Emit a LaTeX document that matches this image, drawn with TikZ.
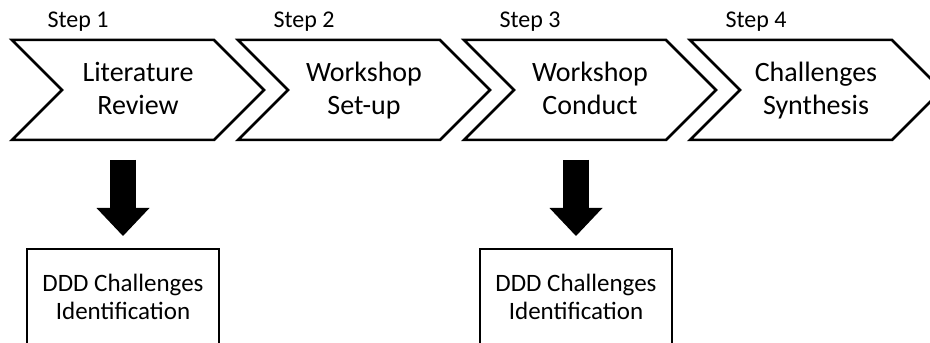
\documentclass[tikz,border=0pt]{standalone}
\usepackage{fontspec}
\setmainfont{Carlito}
\usetikzlibrary{shapes,arrows.meta,positioning,calc}
\newcommand{\linestrut}{\rule[-8pt]{0pt}{32pt}}

\begin{document}
\begin{tikzpicture}[x=1pt, y=1pt, node distance=226pt, on grid,
	stepbox/.style={signal, signal from=west, signal to=east, signal pointer angle=90, draw, line width=2.5pt,
		minimum width=252pt, minimum height=100pt, inner sep=0pt, outer sep=0pt, align=center,
		font=\fontsize{28}{30}\selectfont},
	steplabel/.style={font=\fontsize{24}{26}\selectfont},
	idbox/.style={rectangle, draw, line width=2.2pt, minimum width=192pt, minimum height=96pt, outer sep=0pt,
		align=center, font=\fontsize{25}{28}\selectfont},
	bigarrow/.style={line width=26pt, -{Triangle[width=53pt, length=28pt, line width=0pt]},
		shorten <=20pt, shorten >=13pt}]
	\useasboundingbox (0,0) rectangle (930,343);
	\clip (0,0) rectangle (930,343);
	\node[stepbox] (lit) at (138,253) {\linestrut Literature\\\linestrut Review};
	\node[stepbox, right=of lit] (setup) {\linestrut Workshop\\\linestrut Set-up};
	\node[stepbox, right=of setup] (conduct) {\linestrut Workshop\\\linestrut Conduct};
	\node[stepbox, right=of conduct] (synth) {\linestrut Challenges\\\linestrut Synthesis};
	
	\node[steplabel, above left=68pt and 60pt of lit] (s1) {Step 1};
	\node[steplabel, above left=68pt and 60pt of setup] (s2) {Step 2};
	\node[steplabel, above left=68pt and 60pt of conduct] (s3) {Step 3};
	\node[steplabel, above left=68pt and 60pt of synth] (s4) {Step 4};
	
	\node[idbox, below left=207pt and 15pt of lit] (id1) {DDD Challenges\\Identification};
	\node[idbox, below left=207pt and 14pt of conduct] (id2) {DDD Challenges\\Identification};
	
	\draw[bigarrow] (lit.south -| id1.north) -- (id1.north);
	\draw[bigarrow] (conduct.south -| id2.north) -- (id2.north);
\end{tikzpicture}
\end{document}
